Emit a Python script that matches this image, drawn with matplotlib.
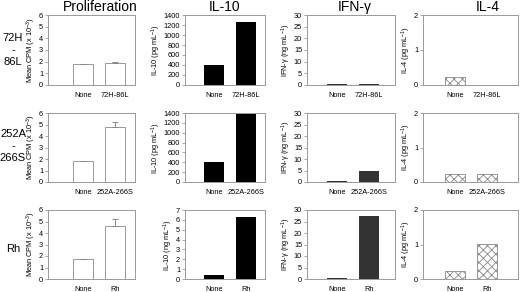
import matplotlib
matplotlib.use("Agg")
import matplotlib.pyplot as plt

plt.rcParams['font.family'] = ['Liberation Sans', 'DejaVu Sans']
plt.rcParams['mathtext.fontset'] = 'custom'
plt.rcParams['mathtext.rm'] = 'Liberation Sans'
plt.rcParams['mathtext.it'] = 'Liberation Sans:italic'
plt.rcParams['hatch.color'] = '#888888'
plt.rcParams['hatch.linewidth'] = 0.6

# data
titles = ["Proliferation", "IL-10", "IFN-\u03b3", "IL-4"]
row_labels = ["72H\n-\n86L", "252A\n-\n266S", "Rh"]
categories = [["None", "72H-86L"], ["None", "252A-266S"], ["None", "Rh"]]

prolif = [[1.8, 1.85], [1.8, 4.8], [1.75, 4.65]]
prolif_err = [[0.03, 0.15], [0.03, 0.4], [0.03, 0.6]]
il10 = [[400, 1250], [400, 1370], [0.4, 6.3]]
ifng = [[0.3, 0.3], [0.4, 4.8], [0.3, 27.5]]
il4 = [[0.22, 0.0], [0.22, 0.22], [0.22, 1.02]]

ylabels = [
    ["Mean CPM (x 10$^{-3}$)", "IL-10 (pg mL$^{-1}$)", "IFN-\u03b3 (ng mL$^{-1}$)", "IL-4 (pg mL$^{-1}$)"],
    ["Mean CPM (x 10$^{-3}$)", "IL-10 (pg mL$^{-1}$)", "IFN-\u03b3 (ng mL$^{-1}$)", "IL-4 (pg mL$^{-1}$)"],
    ["Mean CPM (x 10$^{-3}$)", "IL-10 (ng mL$^{-1}$)", "IFN-\u03b3 (ng mL$^{-1}$)", "IL-4 (pg mL$^{-1}$)"],
]
ylims = [
    [(0, 6, 1), (0, 1400, 200), (0, 30, 5), (0, 2, 1)],
    [(0, 6, 1), (0, 1400, 200), (0, 30, 5), (0, 2, 1)],
    [(0, 6, 1), (0, 7, 1), (0, 30, 5), (0, 2, 1)],
]

W, H = 520, 292
fig = plt.figure(figsize=(W / 100, H / 100), dpi=100)

col_px = [(48, 135), (185, 265), (307, 395), (423, 518)]
row_px = [(15, 85), (113, 182), (210, 279)]
xlims = [(-1.09, 1.625), (-0.91, 1.59), (-0.94, 1.81), (-1.0, 1.97)]
title_x = [100, 225, 355, 488]
edge = '#999999'

for r in range(3):
    y0, y1 = row_px[r]
    for c in range(4):
        x0, x1 = col_px[c]
        ax = fig.add_axes([x0 / W, 1 - y1 / H, (x1 - x0) / W, (y1 - y0) / H])
        xs = [0, 1]
        if c == 0:
            ax.bar(xs, prolif[r], width=0.62, color='white', edgecolor='#999999', linewidth=0.7)
            ax.errorbar(xs, prolif[r], yerr=[[0, 0], prolif_err[r]], fmt='none',
                        ecolor='#888888', elinewidth=0.7, capsize=2, capthick=0.7)
        elif c == 1:
            ax.bar(xs, il10[r], width=0.62, color='black')
        elif c == 2:
            ax.bar(xs, ifng[r], width=0.62, color='#333333')
        else:
            ax.bar(xs, il4[r], width=0.62, color='white', edgecolor='#888888',
                   linewidth=0.6, hatch='xxxx')
        lo, hi, step = ylims[r][c]
        ax.set_ylim(lo, hi)
        ax.set_yticks([lo + i * step for i in range(int(round((hi - lo) / step)) + 1)])
        ax.set_xlim(*xlims[c])
        ax.set_xticks(xs)
        ax.set_xticklabels(categories[r])
        ax.tick_params(axis='x', length=0, pad=5, labelsize=5.3)
        ax.tick_params(axis='y', length=2, width=0.6, pad=1.5, labelsize=5.3, color=edge)
        for s in ax.spines.values():
            s.set_color(edge)
            s.set_linewidth(0.7)
        ax.set_ylabel(ylabels[r][c], fontsize=5.3, labelpad=0.5)

for c in range(4):
    fig.text(title_x[c] / W, 1 - 7 / H, titles[c], ha='center', va='center', fontsize=10)

label_y = [50, 146, 249]
for r in range(3):
    fig.text(13 / W, 1 - label_y[r] / H, row_labels[r], ha='center', va='center',
             fontsize=8, linespacing=1.25)

fig.savefig("out.png", dpi=100)
